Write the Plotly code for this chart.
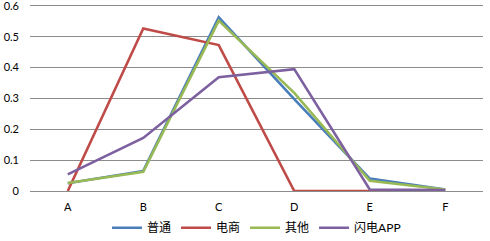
import plotly.graph_objects as go

categories = ["A", "B", "C", "D", "E", "F"]
putong = [0.025, 0.065, 0.563, 0.298, 0.040, 0.005]
dianshang = [0.0, 0.527, 0.473, 0.0, 0.0, 0.0]
qita = [0.026, 0.062, 0.552, 0.318, 0.033, 0.005]
shandian = [0.054, 0.172, 0.369, 0.395, 0.005, 0.003]
y_ticks = [0, 0.1, 0.2, 0.3, 0.4, 0.5, 0.6]
y_tick_text = ["0", "0.1", "0.2", "0.3", "0.4", "0.5", "0.6"]

series = [
    ("普通", putong, "#4A7EBB"),
    ("电商", dianshang, "#BE4B48"),
    ("其他", qita, "#98B954"),
    ("闪电APP", shandian, "#7D60A0"),
]

fig = go.Figure()
for name, vals, color in series:
    fig.add_trace(go.Scatter(x=categories, y=vals, name=name, mode="lines",
                             line=dict(color=color, width=2.6)))

font = "Lato, 'Open Sans', 'Noto Sans CJK SC', sans-serif"
fig.update_layout(
    width=490, height=241,
    margin=dict(l=30, r=7, t=4, b=50, autoexpand=False),
    paper_bgcolor="white", plot_bgcolor="white",
    font=dict(family=font, size=12, color="#000000"),
    showlegend=True,
    legend=dict(orientation="h", x=0.5, xanchor="center", yref="container",
                y=0.055, yanchor="middle",
                font=dict(size=12), itemwidth=30, tracegroupgap=0),
    xaxis=dict(type="category", range=[-0.5, 5.5], showgrid=False, zeroline=False,
               showline=False, ticks="", tickfont=dict(size=11), ticklabelstandoff=8),
    yaxis=dict(range=[0, 0.606], tickvals=y_ticks, ticktext=y_tick_text,
               showgrid=True, gridcolor="#8C8C8C", gridwidth=1, zeroline=True,
               zerolinecolor="#8C8C8C", zerolinewidth=1, showline=False,
               ticks="", tickfont=dict(size=11), ticklabelstandoff=10,
               ticklabeloverflow="allow"),
)
fig.write_html("out.html", config={"displayModeBar": False},
               post_script="document.body.style.margin='0';document.body.style.padding='0';")
